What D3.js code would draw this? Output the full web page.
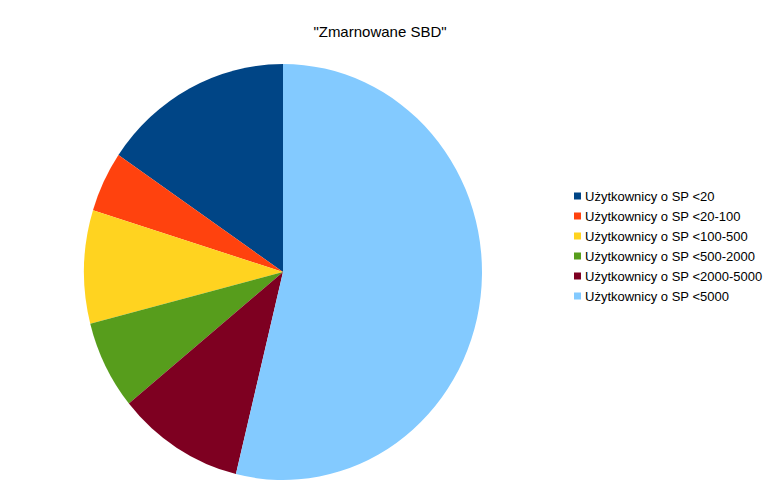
<!DOCTYPE html>
<html>
<head>
<meta charset="utf-8">
<script src="https://cdn.jsdelivr.net/npm/d3@7"></script>
<style>
  body { margin: 0; background: #fff; }
  text { font-family: "Liberation Sans", Arial, sans-serif; }
</style>
</head>
<body>
<div id="chart"></div>
<script>
var svgWidth = 763;
var svgHeight = 484;

// data (percent of the whole)
var categories = [
  "Użytkownicy o SP <20",
  "Użytkownicy o SP <20-100",
  "Użytkownicy o SP <100-500",
  "Użytkownicy o SP <500-2000",
  "Użytkownicy o SP <2000-5000",
  "Użytkownicy o SP <5000"
];
var values = [15.5, 4.7, 8.8, 6.9, 10.3, 53.8];
var colors = ["#004586", "#ff420e", "#ffd320", "#579d1c", "#7e0021", "#83caff"];
var title = "\"Zmarnowane SBD\"";

var cx = 283, cy = 272;
var rx = 199, ry = 208;

var svg = d3.select("#chart")
  .append("svg")
  .attr("width", svgWidth)
  .attr("height", svgHeight);

svg.append("text")
  .attr("x", 380)
  .attr("y", 37)
  .attr("text-anchor", "middle")
  .attr("font-size", "15px")
  .attr("fill", "#000")
  .text(title);

// slices go counterclockwise from 12 o'clock
var pie = d3.pie()
  .sort(null)
  .startAngle(0)
  .endAngle(-2 * Math.PI);

var arc = d3.arc()
  .innerRadius(0)
  .outerRadius(rx);

var pieGroup = svg.append("g")
  .attr("transform", `translate(${cx}, ${cy}) scale(1, ${ry / rx})`);

pieGroup.selectAll("path")
  .data(pie(values))
  .enter()
  .append("path")
  .attr("d", arc)
  .attr("fill", (d, i) => colors[i]);

// legend
var legend = svg.append("g")
  .attr("transform", "translate(574, 196)");

var rows = legend.selectAll("g")
  .data(categories)
  .enter()
  .append("g")
  .attr("transform", (d, i) => `translate(0, ${i * 20})`);

rows.append("rect")
  .attr("x", 0)
  .attr("y", -3.5)
  .attr("width", 7)
  .attr("height", 7)
  .attr("fill", (d, i) => colors[i]);

rows.append("text")
  .attr("x", 11)
  .attr("y", 5)
  .attr("font-size", "13px")
  .attr("fill", "#000")
  .text(d => d);
</script>
</body>
</html>
